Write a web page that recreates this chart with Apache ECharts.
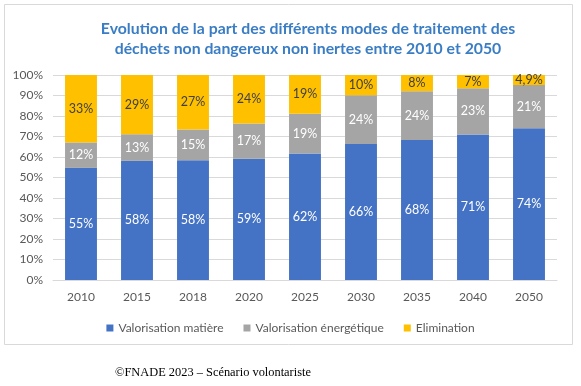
<!DOCTYPE html>
<html>
<head>
<meta charset="utf-8">
<script src="https://cdn.jsdelivr.net/npm/echarts@6/dist/echarts.min.js"></script>
<style>html,body{margin:0;padding:0;background:#fff;}#c{width:581px;height:386px;}</style>
</head>
<body>
<div id="c"></div>
<script>
const categories = ['2010','2015','2018','2020','2025','2030','2035','2040','2050'];
const valorisationMatiere = [54.7, 58.1, 58.4, 59.1, 61.7, 66.4, 68.3, 71.0, 74.0];
const valorisationEnergetique = [12.4, 13.0, 15.0, 17.2, 19.4, 23.7, 23.8, 22.5, 21.1];
const elimination = [32.9, 28.9, 26.6, 23.7, 18.9, 9.9, 7.9, 6.5, 4.9];
const yTicks = [0,10,20,30,40,50,60,70,80,90,100];

const FONT = 'Lato, "Noto Sans", sans-serif';
function fmt(p){
  const v = p.value;
  if (v < 5) return v.toFixed(1).replace('.', ',') + '%';
  return Math.round(v) + '%';
}
function series(name, data, color, labelColor){
  return {
    name, type:'bar', stack:'total', data, barWidth:'57%',
    itemStyle:{color},
    label:{show:true, position:'inside', formatter:fmt, color:labelColor, fontSize:12.5, fontFamily:FONT},
    emphasis:{disabled:true}
  };
}
const chart = echarts.init(document.getElementById('c'), null, {renderer:'canvas'});
chart.setOption({
  animation:false,
  backgroundColor:'#fff',
  title:{
    text:'Evolution de la part des différents modes de traitement des\ndéchets non dangereux non inertes entre 2010 et 2050',
    left:303, top:14, textAlign:'center',
    textStyle:{color:'#3A7DC4', fontSize:15.8, fontWeight:'bold', fontFamily:FONT, lineHeight:20}
  },
  graphic:[
    {type:'rect', shape:{x:4.5,y:4.5,width:568,height:340}, style:{fill:'none', stroke:'#d9d9d9', lineWidth:1}, z:-1},
    {type:'text', left:115, top:367, style:{text:'©FNADE 2023 – Scénario volontariste', font:'12.4px "Liberation Serif", "Times New Roman", serif', fill:'#000'}}
  ],
  legend:{
    data:['Valorisation matière','Valorisation énergétique','Elimination'],
    top:317, left:'center', icon:'rect', itemWidth:7, itemHeight:7, itemGap:20,
    textStyle:{color:'#595959', fontSize:12, fontFamily:FONT}
  },
  grid:{left:53, right:24, top:75, height:205},
  xAxis:{
    type:'category', data:categories,
    axisLine:{lineStyle:{color:'#d9d9d9'}}, axisTick:{show:false},
    axisLabel:{color:'#595959', fontSize:12, fontFamily:FONT, margin:11}
  },
  yAxis:{
    type:'value', min:0, max:100, interval:10,
    axisLabel:{color:'#595959', fontSize:12, fontFamily:FONT, margin:10, formatter: v => (yTicks.includes(v) ? v + '%' : '')},
    splitLine:{lineStyle:{color:'#d9d9d9'}},
    axisLine:{show:false}, axisTick:{show:false}
  },
  series:[
    series('Valorisation matière', valorisationMatiere, '#4472C4', '#fff'),
    series('Valorisation énergétique', valorisationEnergetique, '#A5A5A5', '#fff'),
    series('Elimination', elimination, '#FFC000', '#404040')
  ]
});
</script>
</body>
</html>
